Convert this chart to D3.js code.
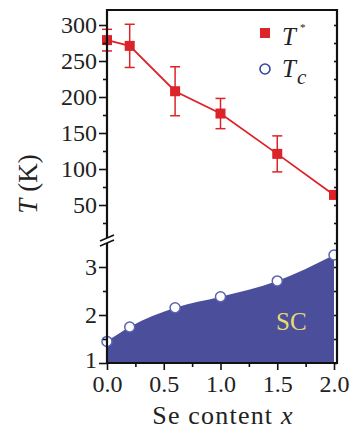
<!DOCTYPE html>
<html>
<head>
<meta charset="utf-8">
<script src="https://cdn.jsdelivr.net/npm/d3@7"></script>
<style>
  body { margin: 0; background: #fff; }
  svg { display: block; }
</style>
</head>
<body>
<svg width="353" height="434"></svg>
<script>
// Se content x
const seContent = [0, 0.2, 0.6, 1.0, 1.5, 2.0];
// T* (K) with error bar half-widths
const tStar = [279, 271, 208, 177, 121, 64];
const tStarErr = [15, 30, 34, 21, 25, 0];
// Tc (K)
const tc = [1.45, 1.75, 2.15, 2.38, 2.71, 3.25];

const xTicks = [0, 0.5, 1.0, 1.5, 2.0];
const xMinor = [0.25, 0.75, 1.25, 1.75];
const yTopTicks = [50, 100, 150, 200, 250, 300];
const yTopMinor = [25, 75, 125, 175, 225, 275];
const yBotTicks = [1, 2, 3];
const yBotMinor = [1.5, 2.5];

const red = "#dc2329";
const blue = "#4a4e9b";
const serif = "'Liberation Serif', 'DejaVu Serif', serif";

const svg = d3.select("svg");

const plotLeft = 107, plotRight = 337, plotTop = 10, plotBottom = 363;
const breakTop = 238, breakBot = 243;

const x = d3.scaleLinear().domain([0, 2]).range([107, 334]);
const yTop = d3.scaleLinear().domain([50, 300]).range([205, 25]);
const yBot = d3.scaleLinear().domain([1, 3]).range([363, 267]);

// superconducting area
const area = d3.area()
  .x((d, i) => x(seContent[i]))
  .y0(yBot(1))
  .y1(d => yBot(d))
  .curve(d3.curveMonotoneX);

svg.append("path")
  .attr("d", area(tc))
  .attr("fill", blue);

svg.append("text")
  .attr("x", 276)
  .attr("y", 330)
  .style("font-family", serif)
  .style("font-size", "25px")
  .attr("fill", "#e6dc74")
  .text("SC");

// T* line and error bars
const line = d3.line()
  .x((d, i) => x(seContent[i]))
  .y(d => yTop(d));

svg.append("path")
  .attr("d", line(tStar))
  .attr("fill", "none")
  .attr("stroke", red)
  .attr("stroke-width", 1.8);

const err = svg.append("g").attr("stroke", red).attr("stroke-width", 1.5);
tStar.forEach((v, i) => {
  if (!tStarErr[i]) return;
  const cx = x(seContent[i]);
  err.append("line")
    .attr("x1", cx).attr("x2", cx)
    .attr("y1", yTop(v + tStarErr[i])).attr("y2", yTop(v - tStarErr[i]));
  [v + tStarErr[i], v - tStarErr[i]].forEach(e => {
    err.append("line")
      .attr("x1", cx - 5).attr("x2", cx + 5)
      .attr("y1", yTop(e)).attr("y2", yTop(e));
  });
});

svg.selectAll("rect.tstar")
  .data(tStar)
  .enter()
  .append("rect")
  .attr("class", "tstar")
  .attr("x", (d, i) => x(seContent[i]) - 5)
  .attr("y", d => yTop(d) - 5)
  .attr("width", 10)
  .attr("height", 10)
  .attr("fill", red);

svg.selectAll("circle.tc")
  .data(tc)
  .enter()
  .append("circle")
  .attr("class", "tc")
  .attr("cx", (d, i) => x(seContent[i]))
  .attr("cy", d => yBot(d))
  .attr("r", 5)
  .attr("fill", "#fff")
  .attr("stroke", "#5a64b0")
  .attr("stroke-width", 1.5);

// white cover so markers at x = 2.0 are clipped by the frame
svg.append("rect")
  .attr("x", plotRight + 1).attr("y", 0)
  .attr("width", 353 - plotRight).attr("height", 434)
  .attr("fill", "#fff");

// axes
function styleAxis(g) {
  g.select(".domain").remove();
  g.attr("font-family", serif);
  g.selectAll(".tick line").attr("stroke", "#111").attr("stroke-width", 1.6);
  g.selectAll(".tick text")
    .style("font-family", serif)
    .style("font-size", "24px")
    .attr("fill", "#222");
}

svg.append("g")
  .attr("transform", `translate(${plotLeft},0)`)
  .call(d3.axisLeft(yTop).tickValues(yTopTicks).tickSize(8).tickPadding(2).tickFormat(d3.format("d")))
  .call(styleAxis);
svg.append("g")
  .attr("transform", `translate(${plotLeft},0)`)
  .call(d3.axisLeft(yTop).tickValues(yTopMinor).tickSize(4).tickFormat(""))
  .call(styleAxis);
const yBotAxis = svg.append("g")
  .attr("transform", `translate(${plotLeft},0)`)
  .call(d3.axisLeft(yBot).tickValues(yBotTicks).tickSize(8).tickPadding(2).tickFormat(d3.format("d")))
  .call(styleAxis);
// lift the "1" a little so it clears the 0.0 label
yBotAxis.selectAll(".tick text").filter(d => d === 1).attr("dy", "0.2em");
svg.append("g")
  .attr("transform", `translate(${plotLeft},0)`)
  .call(d3.axisLeft(yBot).tickValues(yBotMinor).tickSize(4).tickFormat(""))
  .call(styleAxis);

// inner ticks on the right border
svg.append("g")
  .attr("transform", `translate(${plotRight},0)`)
  .call(d3.axisRight(yTop).tickValues(yTopTicks.concat(yTopMinor)).tickSize(-3).tickFormat(""))
  .call(styleAxis);
svg.append("g")
  .attr("transform", `translate(${plotRight},0)`)
  .call(d3.axisRight(yBot).tickValues(yBotTicks.concat(yBotMinor, [3.5])).tickSize(-3).tickFormat(""))
  .call(styleAxis);

svg.append("g")
  .attr("transform", `translate(0,${plotBottom})`)
  .call(d3.axisBottom(x).tickValues(xTicks).tickSize(7).tickPadding(5).tickFormat(d3.format(".1f")))
  .call(styleAxis);
svg.append("g")
  .attr("transform", `translate(0,${plotBottom})`)
  .call(d3.axisBottom(x).tickValues(xMinor).tickSize(4).tickFormat(""))
  .call(styleAxis);

// frame
const frame = svg.append("g").attr("stroke", "#111").attr("stroke-width", 2.2).attr("fill", "none");
frame.append("path").attr("d", `M${plotLeft},${breakTop}V${plotTop}H${plotRight}V${plotBottom}H${plotLeft}V${breakBot}`);
frame.append("line").attr("x1", 100).attr("y1", breakTop + 3).attr("x2", 114).attr("y2", breakTop - 3).attr("stroke-width", 1.6);
frame.append("line").attr("x1", 100).attr("y1", breakBot + 3).attr("x2", 114).attr("y2", breakBot - 3).attr("stroke-width", 1.6);

// legend
svg.append("rect").attr("x", 260).attr("y", 28).attr("width", 10).attr("height", 10).attr("fill", red);
svg.append("circle").attr("cx", 265).attr("cy", 69).attr("r", 5)
  .attr("fill", "#fff").attr("stroke", "#3147a0").attr("stroke-width", 1.6);

const l1 = svg.append("text").attr("x", 282).attr("y", 45)
  .style("font-family", serif).style("font-size", "25px").attr("fill", "#222");
l1.append("tspan").style("font-style", "italic").text("T");
l1.append("tspan").style("font-size", "11px").attr("dx", 4).attr("dy", -14).text("*");

const l2 = svg.append("text").attr("x", 282).attr("y", 77)
  .style("font-family", serif).style("font-size", "25px").attr("fill", "#222");
l2.append("tspan").style("font-style", "italic").text("T");
l2.append("tspan").style("font-style", "italic").style("font-size", "21px").attr("dx", 1).attr("dy", 7).text("c");

// axis titles
const yl = svg.append("text")
  .attr("transform", "translate(37,184) rotate(-90)")
  .attr("text-anchor", "middle")
  .style("font-family", serif)
  .style("font-size", "27px")
  .attr("fill", "#222");
yl.append("tspan").style("font-style", "italic").text("T");
yl.append("tspan").text(" (K)");

const xl = svg.append("text")
  .attr("x", 223)
  .attr("y", 424)
  .attr("text-anchor", "middle")
  .style("font-family", serif)
  .style("font-size", "26px")
  .style("letter-spacing", "1.2px")
  .attr("fill", "#222");
xl.append("tspan").text("Se content ");
xl.append("tspan").style("font-style", "italic").text("x");
</script>
</body>
</html>
